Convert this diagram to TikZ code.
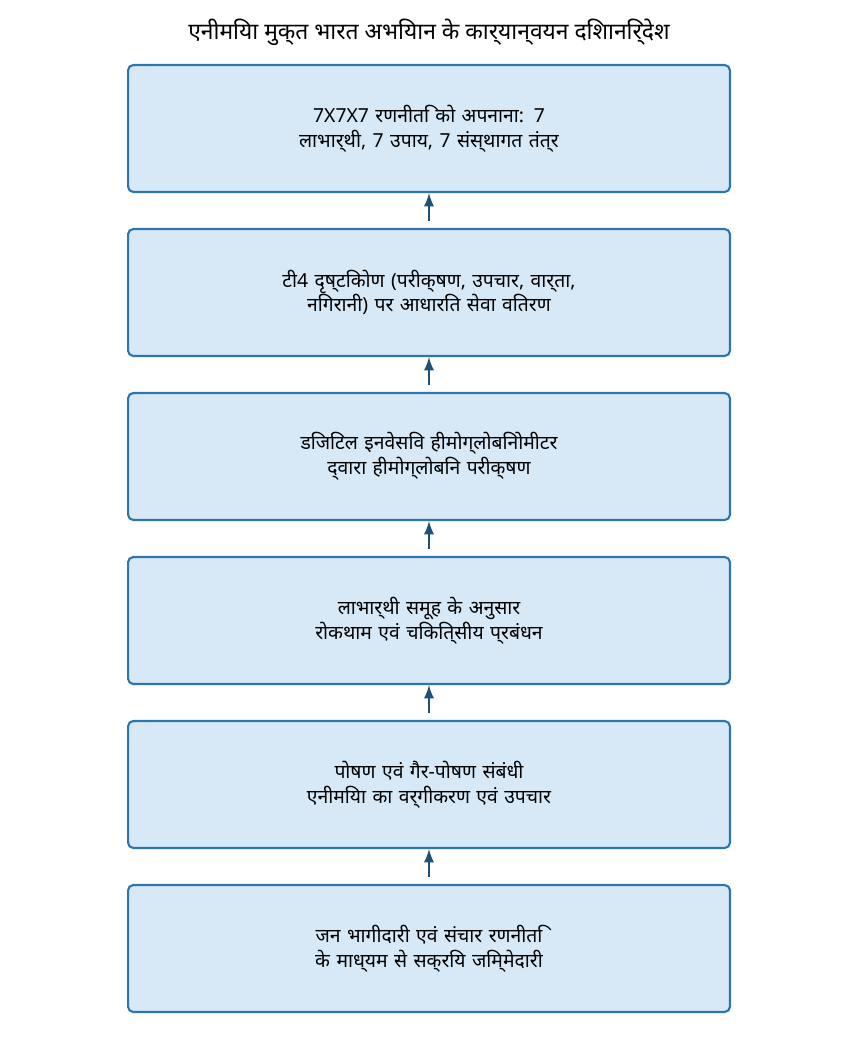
\documentclass[tikz,border=0pt]{standalone}
\usepackage{fontspec}
\setmainfont{Noto Sans}
\usetikzlibrary{positioning}
\definecolor{boxfill}{HTML}{D7E9F7}
\definecolor{boxline}{HTML}{2E75AE}
\definecolor{arrowc}{HTML}{1F5078}
\begin{document}
\begin{tikzpicture}[x=0.02cm,y=-0.02cm,
  stage/.style={draw=boxline,line width=1.2pt,fill=boxfill,rounded corners=3pt,
    minimum width=12.04cm,minimum height=2.54cm,align=center,text width=6.2cm,font=\fontsize{11}{14}\selectfont},
  flow/.style={draw=arrowc,line width=1.6pt,-latex}]
\useasboundingbox (0,0) rectangle (858,1053);
\node[font=\bfseries\fontsize{13}{16}\selectfont] (title) at (429,32) {एनीमिया मुक्त भारत अभियान के कार्यान्वयन दिशानिर्देश};
\node[stage] (s1) at (429,128.5) {7X7X7 रणनीति को अपनाना: 7 लाभार्थी, 7 उपाय, 7 संस्थागत तंत्र};
\node[stage] (s2) at (429,292.5) {टी4 दृष्टिकोण (परीक्षण, उपचार, वार्ता, निगरानी) पर आधारित सेवा वितरण};
\node[stage] (s3) at (429,456.5) {डिजिटल इनवेसिव हीमोग्लोबिनोमीटर द्वारा हीमोग्लोबिन परीक्षण};
\node[stage] (s4) at (429,620.5) {लाभार्थी समूह के अनुसार रोकथाम एवं चिकित्सीय प्रबंधन};
\node[stage] (s5) at (429,784.5) {पोषण एवं गैर-पोषण संबंधी एनीमिया का वर्गीकरण एवं उपचार};
\node[stage] (s6) at (429,948.5) {जन भागीदारी एवं संचार रणनीति के माध्यम से सक्रिय जिम्मेदारी};
\foreach \a/\b in {s2/s1,s3/s2,s4/s3,s5/s4,s6/s5}
  \draw[flow] ([yshift=0.14cm]\a.north) -- (\b.south);
\end{tikzpicture}
\end{document}
